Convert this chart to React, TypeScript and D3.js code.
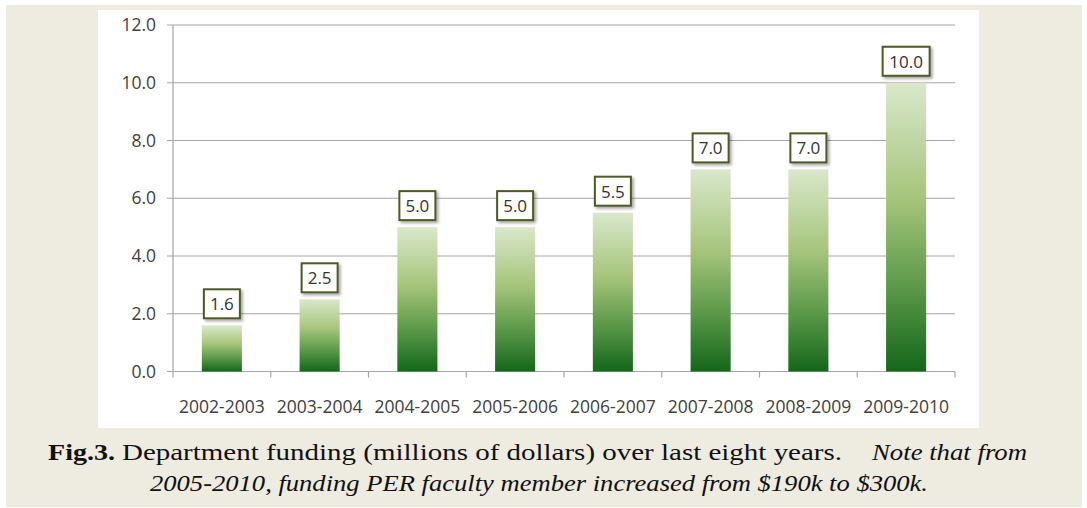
import React from "react";
import * as d3 from "d3";

const categories = ["2002-2003", "2003-2004", "2004-2005", "2005-2006", "2006-2007", "2007-2008", "2008-2009", "2009-2010"];
const funding = [1.6, 2.5, 5.0, 5.0, 5.5, 7.0, 7.0, 10.0];
const yTicks = [0, 2, 4, 6, 8, 10, 12];
const captionBold = "Fig.3.";
const captionLine1 = "Department funding (millions of dollars) over last eight years.";
const captionItalic1 = "Note that from";
const captionLine2 = "2005-2010, funding PER faculty member increased from $190k to $300k.";

const W = 1087;
const H = 508;
const plotLeft = 173;
const plotRight = 955;
const plotTop = 25;
const plotBottom = 371.5;

export default function App() {
  const x = d3.scaleBand<string>().domain(categories).range([plotLeft, plotRight]).paddingInner(0.59).paddingOuter(0.295);
  const y = d3.scaleLinear().domain([0, 12]).range([plotBottom, plotTop]);
  const band = (plotRight - plotLeft) / categories.length;
  const tickFont = "'Open Sans', 'DejaVu Sans', sans-serif";
  const serif = "'Liberation Serif', 'DejaVu Serif', serif";

  return (
    <svg width={W} height={H} style={{ position: "absolute", left: 0, top: 0 }} xmlns="http://www.w3.org/2000/svg">
      <defs>
        <linearGradient id="barGrad" x1="0" y1="0" x2="0" y2="1">
          <stop offset="0" stopColor="#d9e8cb" />
          <stop offset="0.4" stopColor="#a6c57b" />
          <stop offset="0.72" stopColor="#589747" />
          <stop offset="1" stopColor="#14671a" />
        </linearGradient>
        <filter id="shadow" x="-30%" y="-30%" width="170%" height="170%">
          <feDropShadow dx="2" dy="2" stdDeviation="1.6" floodColor="#000" floodOpacity="0.35" />
        </filter>
      </defs>
      <rect x={0} y={0} width={W} height={H} fill="#ffffff" />
      <rect x={6} y={5} width={1076} height={502} fill="#eeebe0" />
      <rect x={98} y={10} width={881} height={418} fill="#ffffff" />

      {/* gridlines */}
      {yTicks.map((t) => (
        <line key={"g" + t} x1={plotLeft - 6} x2={plotRight} y1={y(t)} y2={y(t)} stroke="#a6a6a6" strokeWidth={1.2} />
      ))}
      {/* y axis */}
      <line x1={plotLeft} x2={plotLeft} y1={plotTop} y2={plotBottom} stroke="#a6a6a6" strokeWidth={1.2} />
      {/* x ticks */}
      {d3.range(categories.length + 1).map((i) => (
        <line key={"xt" + i} x1={plotLeft + i * band} x2={plotLeft + i * band} y1={plotBottom} y2={plotBottom + 6} stroke="#a6a6a6" strokeWidth={1.2} />
      ))}
      {/* y tick labels */}
      {yTicks.map((t) => (
        <text key={"yl" + t} x={156} y={y(t) + 6} textAnchor="end" fontFamily={tickFont} fontSize={17.5} fill="#404040">
          {t.toFixed(1)}
        </text>
      ))}
      {/* x labels */}
      {categories.map((c) => (
        <text key={"xl" + c} x={(x(c) as number) + x.bandwidth() / 2} y={413} textAnchor="middle" fontFamily={tickFont} fontSize={17.5} fill="#404040">
          {c}
        </text>
      ))}
      {/* bars */}
      {categories.map((c, i) => (
        <rect key={"b" + c} x={x(c)} y={y(funding[i])} width={x.bandwidth()} height={plotBottom - y(funding[i])} fill="url(#barGrad)" />
      ))}
      {/* value labels */}
      {categories.map((c, i) => {
        const label = funding[i].toFixed(1);
        const bw = label.length > 3 ? 47 : 36;
        const cx = (x(c) as number) + x.bandwidth() / 2;
        const top = y(funding[i]) - 36;
        return (
          <g key={"v" + c}>
            <rect x={cx - bw / 2} y={top} width={bw} height={29} fill="#ffffff" stroke="#4d5a26" strokeWidth={2} filter="url(#shadow)" />
            <text x={cx} y={top + 21} textAnchor="middle" fontFamily={tickFont} fontSize={17} fill="#333333">
              {label}
            </text>
          </g>
        );
      })}
      {/* caption */}
      <text x={48} y={460} fontFamily={serif} fontSize={24} fontWeight="bold" fill="#111" textLength={67} lengthAdjust="spacingAndGlyphs">
        {captionBold}
      </text>
      <text x={122} y={460} fontFamily={serif} fontSize={24} fill="#111" textLength={720} lengthAdjust="spacingAndGlyphs">
        {captionLine1}
      </text>
      <text x={872} y={460} fontFamily={serif} fontSize={24} fontStyle="italic" fill="#111" textLength={155} lengthAdjust="spacingAndGlyphs">
        {captionItalic1}
      </text>
      <text x={150} y={491} fontFamily={serif} fontSize={24} fontStyle="italic" fill="#111" textLength={778} lengthAdjust="spacingAndGlyphs">
        {captionLine2}
      </text>
    </svg>
  );
}
